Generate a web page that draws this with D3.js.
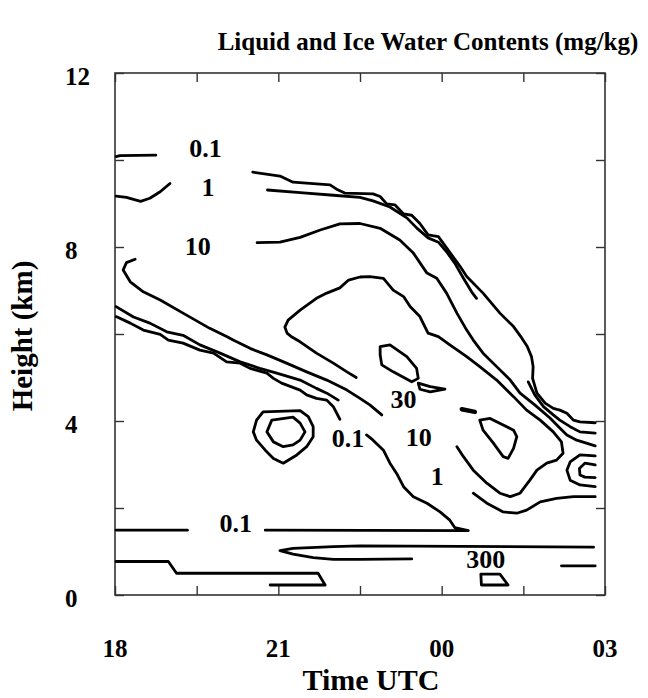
<!DOCTYPE html>
<html>
<head>
<meta charset="utf-8">
<script src="https://cdn.jsdelivr.net/npm/d3@7"></script>
<style>
  body { margin: 0; background: #fff; }
  text { font-family: "Liberation Serif", "Times New Roman", serif; font-weight: bold; fill: #000; }
</style>
</head>
<body>
<div id="chart"></div>
<script>
// points are [time in h (18 = 18 UTC, 27 = 03 UTC), height in km]
let stubTop = [[18.02, 10.08], [18.09, 10.10], [18.75, 10.11]];
let stubOne = [[18.02, 9.17], [18.21, 9.14], [18.47, 9.05], [18.64, 9.12], [18.83, 9.27], [19.01, 9.46]];
let outerLine = [[20.53, 9.72], [21.03, 9.63], [21.27, 9.49], [21.95, 9.43], [22.07, 9.33], [22.22, 9.24],
  [22.74, 9.22], [22.87, 9.16], [22.99, 8.99], [23.14, 8.97], [23.30, 8.76], [23.45, 8.73], [23.60, 8.54],
  [23.75, 8.28], [23.94, 8.24], [24.09, 7.98], [24.34, 7.55], [24.46, 7.32], [24.76, 6.94], [25.07, 6.48],
  [25.32, 6.17], [25.47, 5.91], [25.57, 5.72], [25.65, 5.48], [25.68, 5.25], [25.67, 4.98], [25.75, 4.64],
  [25.90, 4.41], [26.05, 4.29], [26.17, 4.25], [26.30, 4.18], [26.42, 4.02], [26.54, 3.98], [26.82, 3.96]];
let innerLineA = [[20.80, 9.31], [21.40, 9.25], [22.01, 9.19], [22.50, 9.14], [22.74, 9.06], [23.05, 8.92],
  [23.36, 8.67], [23.54, 8.44], [23.75, 8.21], [23.94, 8.11], [24.09, 7.89], [24.24, 7.63], [24.40, 7.28],
  [24.55, 6.97], [24.64, 6.82]];
let innerLineB = [[25.59, 4.90], [25.71, 4.60], [25.87, 4.33], [26.05, 4.14], [26.17, 4.02], [26.36, 3.87],
  [26.54, 3.75], [26.82, 3.72]];
let tenLine = [[20.61, 8.10], [21.03, 8.11], [21.40, 8.22], [21.77, 8.39], [22.13, 8.53], [22.50, 8.54],
  [22.87, 8.43], [23.23, 8.16], [23.48, 7.86], [23.73, 7.40], [23.91, 7.28], [24.09, 6.94], [24.28, 6.48],
  [24.46, 6.09], [24.58, 5.86], [24.76, 5.56], [25.01, 5.25], [25.26, 4.94], [25.44, 4.64], [25.71, 4.37],
  [25.99, 4.07], [26.17, 3.84], [26.30, 3.68], [26.48, 3.56], [26.82, 3.43]];
let coreLine = [[22.43, 5.00], [22.26, 5.13], [22.01, 5.33], [21.70, 5.56], [21.40, 5.82], [21.25, 5.93],
  [21.16, 6.02], [21.12, 6.16], [21.18, 6.32], [21.40, 6.55], [21.70, 6.82], [21.89, 6.94], [22.13, 7.06],
  [22.29, 7.24], [22.50, 7.31], [22.68, 7.32], [22.93, 7.28], [23.11, 7.01], [23.30, 6.86], [23.42, 6.63],
  [23.60, 6.40], [23.75, 6.02], [23.94, 5.94], [24.15, 5.75], [24.46, 5.48], [24.70, 5.25], [25.01, 4.94],
  [25.32, 4.56], [25.56, 4.25], [25.81, 4.02], [26.05, 3.75], [26.20, 3.52], [26.23, 3.26], [26.11, 3.10],
  [25.93, 3.03], [25.75, 2.87], [25.62, 2.64], [25.44, 2.34], [25.26, 2.26], [25.07, 2.34], [24.83, 2.57],
  [24.58, 2.87], [24.40, 3.18], [24.28, 3.41]];
let hookLine = [[18.37, 7.72], [18.21, 7.64], [18.15, 7.47], [18.28, 7.20], [18.52, 6.97], [18.83, 6.78],
  [19.25, 6.48], [19.74, 6.13], [20.05, 5.94], [20.17, 5.86], [20.48, 5.67], [20.79, 5.52], [21.15, 5.33],
  [21.52, 5.13], [21.89, 4.94], [22.26, 4.71], [22.50, 4.52], [22.68, 4.37], [22.90, 4.14]];
let slopeUpper = [[18.02, 6.63], [18.34, 6.39], [18.64, 6.25], [18.95, 6.05], [19.25, 5.97], [19.56, 5.75],
  [19.93, 5.56], [20.30, 5.36], [20.66, 5.21], [20.97, 5.10], [21.40, 4.94], [21.70, 4.75], [21.89, 4.64],
  [22.10, 4.48]];
let slopeLower = [[18.02, 6.40], [18.28, 6.25], [18.52, 6.09], [18.83, 5.99], [18.98, 5.86], [19.25, 5.79],
  [19.56, 5.63], [19.81, 5.56], [20.05, 5.36], [20.30, 5.33], [20.48, 5.21], [20.79, 5.10], [20.91, 4.98],
  [21.06, 4.87], [21.40, 4.71], [21.52, 4.60], [21.70, 4.52], [21.89, 4.48], [22.01, 4.33], [22.13, 4.04]];
let lowLeft = [[18.02, 1.49], [19.33, 1.49]];
let lowRight = [[20.76, 1.49], [24.49, 1.48], [24.24, 1.55], [24.15, 1.72], [23.97, 1.91], [23.73, 2.11],
  [23.48, 2.26], [23.30, 2.49], [23.17, 2.80], [23.05, 3.03], [22.93, 3.33], [22.74, 3.56], [22.62, 3.68]];
let lens = [[23.45, 0.83], [22.50, 0.82], [22.01, 0.82], [21.64, 0.86], [21.27, 0.94], [21.03, 1.02],
  [21.27, 1.07], [22.01, 1.11], [22.50, 1.13], [26.79, 1.10]];
let shortRight = [[26.20, 0.67], [26.82, 0.67]];
let stepLine = [[18.02, 0.77], [18.98, 0.77], [19.13, 0.50], [21.73, 0.50], [21.86, 0.23], [20.85, 0.23]];
let lowerOne = [[24.58, 2.34], [24.83, 2.11], [25.13, 1.91], [25.38, 1.88], [25.56, 1.95], [25.81, 2.14],
  [26.11, 2.22], [26.42, 2.26], [26.82, 2.26]];
let cOuter = [[26.82, 3.20], [26.54, 3.22], [26.36, 3.06], [26.30, 2.87], [26.36, 2.64], [26.54, 2.53], [26.82, 2.49]];
let cInner = [[26.82, 2.99], [26.63, 3.03], [26.53, 2.91], [26.54, 2.76], [26.63, 2.71], [26.82, 2.70]];
let dash = [[24.37, 4.27], [24.61, 4.21]];

// closed cells
let trapezoid = [[24.72, 0.48], [25.07, 0.48], [25.22, 0.23], [24.73, 0.23]];
let ringOuter = [[20.72, 4.21], [21.40, 4.24], [21.55, 4.10], [21.64, 3.87], [21.64, 3.64], [21.52, 3.41],
  [21.34, 3.22], [21.09, 3.03], [20.91, 3.14], [20.76, 3.33], [20.60, 3.56], [20.54, 3.75], [20.60, 4.02]];
let ringInner = [[20.88, 4.02], [21.27, 4.09], [21.40, 3.95], [21.49, 3.75], [21.40, 3.56], [21.27, 3.45],
  [21.09, 3.41], [20.91, 3.52], [20.79, 3.75]];
let pentagon = [[22.87, 5.71], [23.05, 5.75], [23.36, 5.48], [23.54, 5.21], [23.57, 4.98], [23.45, 4.90],
  [23.11, 5.13], [22.90, 5.29], [22.87, 5.52]];
let sliver = [[23.57, 4.87], [23.79, 4.79], [24.06, 4.73], [23.79, 4.67], [23.60, 4.73]];
let triangle = [[24.70, 4.02], [24.89, 4.06], [25.32, 3.79], [25.38, 3.64], [25.32, 3.37], [25.22, 3.14],
  [25.13, 3.18], [24.95, 3.49], [24.76, 3.79]];

let labelText = ["0.1", "1", "10", "30", "0.1", "10", "1", "0.1", "300"];
let labelTime = [19.66, 19.71, 19.52, 23.30, 22.28, 23.58, 23.92, 20.22, 24.81];
let labelHeight = [10.07, 9.17, 7.82, 4.30, 3.41, 3.43, 2.53, 1.45, 0.62];

let xTicks = [18, 19.5, 21, 22.5, 24, 25.5, 27];
let xTickLabels = [18, 21, 24, 27];
let yTicks = [0, 2, 4, 6, 8, 10, 12];
let yTickLabels = [0, 4, 8, 12];

let openLines = [stubTop, stubOne, outerLine, innerLineA, innerLineB, tenLine, coreLine, hookLine,
  slopeUpper, slopeLower, lowLeft, lowRight, lens, shortRight, stepLine, lowerOne, cOuter, cInner, dash];
let closedLines = [trapezoid, ringOuter, ringInner, pentagon, sliver, triangle];

let width = 648;
let height = 698;

let x = d3.scaleLinear().domain([18, 27]).range([115, 605]);
let y = d3.scaleLinear().domain([0, 12]).range([595, 73]);

let svg = d3.select("#chart")
  .append("svg")
  .attr("width", width)
  .attr("height", height);

// ticks point inwards on all four sides
let tickLen = 9;
let axes = [
  [d3.axisBottom(x).tickValues(xTicks), "translate(0," + y(0) + ")"],
  [d3.axisTop(x).tickValues(xTicks), "translate(0," + y(12) + ")"],
  [d3.axisLeft(y).tickValues(yTicks), "translate(" + x(18) + ",0)"],
  [d3.axisRight(y).tickValues(yTicks), "translate(" + x(27) + ",0)"],
];
axes.forEach(function (a) {
  let g = svg.append("g")
    .attr("transform", a[1])
    .call(a[0].tickSize(-tickLen).tickFormat(""));
  g.select(".domain").remove();
  g.selectAll("line").attr("stroke", "#333").attr("stroke-width", 1.4);
});

svg.append("rect")
  .attr("x", x(18))
  .attr("y", y(12))
  .attr("width", x(27) - x(18))
  .attr("height", y(0) - y(12))
  .attr("fill", "none")
  .attr("stroke", "#333")
  .attr("stroke-width", 1.6);

let line = d3.line()
  .x(function (d) { return x(d[0]); })
  .y(function (d) { return y(d[1]); });
let closedLine = d3.line()
  .x(function (d) { return x(d[0]); })
  .y(function (d) { return y(d[1]); })
  .curve(d3.curveLinearClosed);

let plot = svg.append("g")
  .attr("fill", "none")
  .attr("stroke", "#000")
  .attr("stroke-width", 2.8)
  .attr("stroke-linejoin", "round")
  .attr("stroke-linecap", "round");

plot.selectAll("path.open")
  .data(openLines)
  .enter()
  .append("path")
  .attr("class", "open")
  .attr("d", line)
  .attr("stroke-width", function (d) { return d === dash ? 4.5 : null; });

plot.selectAll("path.closed")
  .data(closedLines)
  .enter()
  .append("path")
  .attr("class", "closed")
  .attr("d", closedLine);

// contour labels
svg.selectAll("text.clabel")
  .data(labelText)
  .enter()
  .append("text")
  .attr("class", "clabel")
  .attr("x", function (d, i) { return x(labelTime[i]); })
  .attr("y", function (d, i) { return y(labelHeight[i]); })
  .attr("text-anchor", "middle")
  .attr("font-size", 26)
  .text(function (d) { return d; });

// tick labels
svg.selectAll("text.xlab")
  .data(xTickLabels)
  .enter()
  .append("text")
  .attr("class", "xlab")
  .attr("x", function (d) { return x(d); })
  .attr("y", 657)
  .attr("text-anchor", "middle")
  .attr("font-size", 25)
  .text(function (d) { return d3.format("02")(d % 24); });

svg.selectAll("text.ylab")
  .data(yTickLabels)
  .enter()
  .append("text")
  .attr("class", "ylab")
  .attr("x", 65)
  .attr("y", function (d) { return y(d) + 3; })
  .attr("dy", "0.35em")
  .attr("text-anchor", "start")
  .attr("font-size", 25)
  .text(function (d) { return d; });

svg.append("text")
  .attr("x", 428)
  .attr("y", 50)
  .attr("text-anchor", "middle")
  .attr("font-size", 25)
  .text("Liquid and Ice Water Contents (mg/kg)");

svg.append("text")
  .attr("x", 371)
  .attr("y", 690)
  .attr("text-anchor", "middle")
  .attr("font-size", 30)
  .text("Time UTC");

svg.append("text")
  .attr("transform", "translate(32,336) rotate(-90)")
  .attr("text-anchor", "middle")
  .attr("font-size", 29)
  .text("Height (km)");
</script>
</body>
</html>
